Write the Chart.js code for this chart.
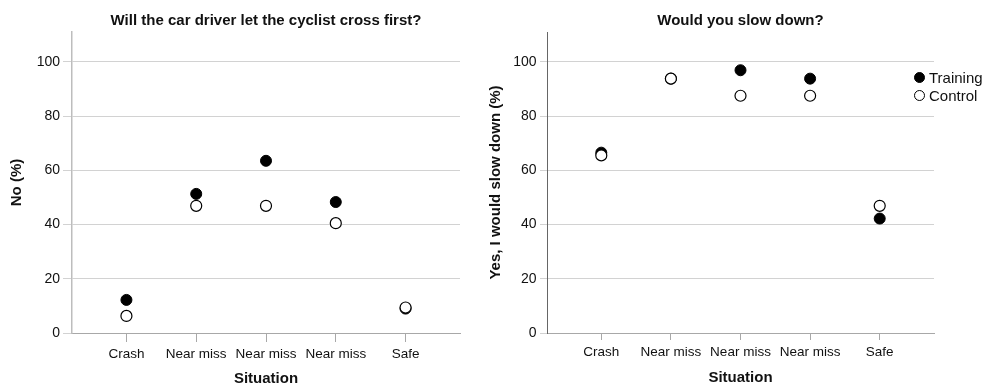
<!DOCTYPE html>
<html>
<head>
<meta charset="utf-8">
<script src="https://cdn.jsdelivr.net/npm/chart.js@4.4.1/dist/chart.umd.min.js"></script>
<style>
  body { margin: 0; background: #fff; }
  #wrap { position: relative; width: 985px; height: 386px; overflow: hidden; }
  canvas { position: absolute; top: 0; }
  #cross { left: 0; }
  #slow { left: 480px; }
  #legend { position: absolute; left: 914px; top: 68px; font: 15px 'Liberation Sans', Arial, sans-serif; color: #111; }
  .item { display: flex; align-items: center; height: 18px; white-space: nowrap; }
  .dot { width: 11px; height: 11px; border-radius: 50%; box-sizing: border-box; border: 1px solid #000; margin-right: 4px; }
</style>
</head>
<body>
<div id="wrap">
  <canvas id="cross" width="490" height="386"></canvas>
  <canvas id="slow" width="505" height="386"></canvas>
  <div id="legend"></div>
</div>
<script>
// Situations on the x axis, shared by both panels
const SITUATIONS = ['Crash', 'Near miss', 'Near miss', 'Near miss', 'Safe'];
const Y_TICKS = [0, 20, 40, 60, 80, 100];

// "Will the car driver let the cyclist cross first?" - % answering No
const CROSS_TRAINING = [12.2, 51.3, 63.5, 48.3, 9.0];
const CROSS_CONTROL = [6.3, 46.9, 46.9, 40.5, 9.4];

// "Would you slow down?" - % answering Yes
const SLOW_TRAINING = [66.5, 93.8, 96.9, 93.8, 42.2];
const SLOW_CONTROL = [65.5, 93.8, 87.5, 87.5, 46.9];

const FONT = "'Liberation Sans', Arial, Helvetica, sans-serif";
const INK = '#111';

const GROUPS = [
  { label: 'Training', fill: '#000', border: '#000', borderWidth: 1, order: 2 },
  { label: 'Control', fill: '#fff', border: '#000', borderWidth: 1.2, order: 1 }
];

function toPoints(values) {
  return values.map((v, i) => ({ x: i + 1, y: v }));
}

function makePanel(id, p) {
  const series = [p.training, p.control];
  return new Chart(document.getElementById(id), {
    type: 'scatter',
    data: {
      datasets: GROUPS.map((g, i) => ({
        label: g.label,
        data: toPoints(series[i]),
        pointRadius: 5.5,
        pointBackgroundColor: g.fill,
        pointBorderColor: g.border,
        pointBorderWidth: g.borderWidth,
        order: g.order
      }))
    },
    options: {
      responsive: false,
      animation: false,
      events: [],
      layout: { padding: { left: 0, top: 0, right: p.padRight, bottom: 0 } },
      plugins: {
        legend: { display: false },
        tooltip: { enabled: false },
        title: {
          display: true,
          text: p.title,
          fullSize: false,
          color: INK,
          font: { family: FONT, size: 15, weight: 'bold', lineHeight: 1.2 },
          padding: { top: 11.5, bottom: 2.5 }
        }
      },
      scales: {
        x: {
          type: 'linear',
          min: 0.22,
          max: 5.78,
          afterBuildTicks: s => { s.ticks = SITUATIONS.map((_, i) => ({ value: i + 1 })); },
          afterFit: s => { s.height = 53; },
          border: { color: p.xAxisColor, width: 1 },
          grid: { drawOnChartArea: false, drawTicks: true, tickLength: p.xTickLen, color: p.xAxisColor },
          ticks: {
            color: INK,
            padding: 4,
            maxRotation: 0,
            autoSkip: false,
            font: { family: FONT, size: 13.5 },
            callback: v => SITUATIONS[v - 1]
          },
          title: {
            display: true,
            text: 'Situation',
            color: INK,
            font: { family: FONT, size: 15, weight: 'bold', lineHeight: 1 },
            padding: { top: 0, bottom: p.xTitlePad }
          }
        },
        y: {
          min: 0,
          max: 111,
          afterBuildTicks: s => { s.ticks = Y_TICKS.map(v => ({ value: v })); },
          afterFit: s => { s.width = p.yWidth; },
          border: { color: p.yAxisColor, width: p.yAxisWidth },
          grid: { color: '#d2d2d2', lineWidth: 1, tickLength: p.yTickLen },
          ticks: {
            color: INK,
            padding: p.yTickPad,
            font: { family: FONT, size: 14 }
          },
          title: {
            display: true,
            text: p.yTitle,
            color: INK,
            font: { family: FONT, size: 15, weight: 'bold', lineHeight: 1 },
            padding: { top: p.yTitlePad, bottom: 0 }
          }
        }
      }
    }
  });
}

makePanel('cross', {
  title: 'Will the car driver let the cyclist cross first?',
  yTitle: 'No (%)',
  training: CROSS_TRAINING,
  control: CROSS_CONTROL,
  padRight: 30,
  yWidth: 72,
  yTickLen: 9,
  yTickPad: 3,
  yTitlePad: 9.5,
  yAxisColor: '#bdbdbd',
  yAxisWidth: 1.5,
  xAxisColor: '#a8a8a8',
  xTickLen: 9,
  xTitlePad: 0
});

makePanel('slow', {
  title: 'Would you slow down?',
  yTitle: 'Yes, I would slow down (%)',
  training: SLOW_TRAINING,
  control: SLOW_CONTROL,
  padRight: 51,
  yWidth: 67,
  yTickLen: 7,
  yTickPad: 3.5,
  yTitlePad: 8,
  yAxisColor: '#666',
  yAxisWidth: 1,
  xAxisColor: '#a8a8a8',
  xTickLen: 7,
  xTitlePad: 1
});

// Group key, drawn once beside the right panel
const legend = document.getElementById('legend');
GROUPS.forEach(g => {
  const item = document.createElement('div');
  item.className = 'item';
  const dot = document.createElement('span');
  dot.className = 'dot';
  dot.style.background = g.fill;
  dot.style.borderColor = g.border;
  item.appendChild(dot);
  item.appendChild(document.createTextNode(g.label));
  legend.appendChild(item);
});
</script>
</body>
</html>
